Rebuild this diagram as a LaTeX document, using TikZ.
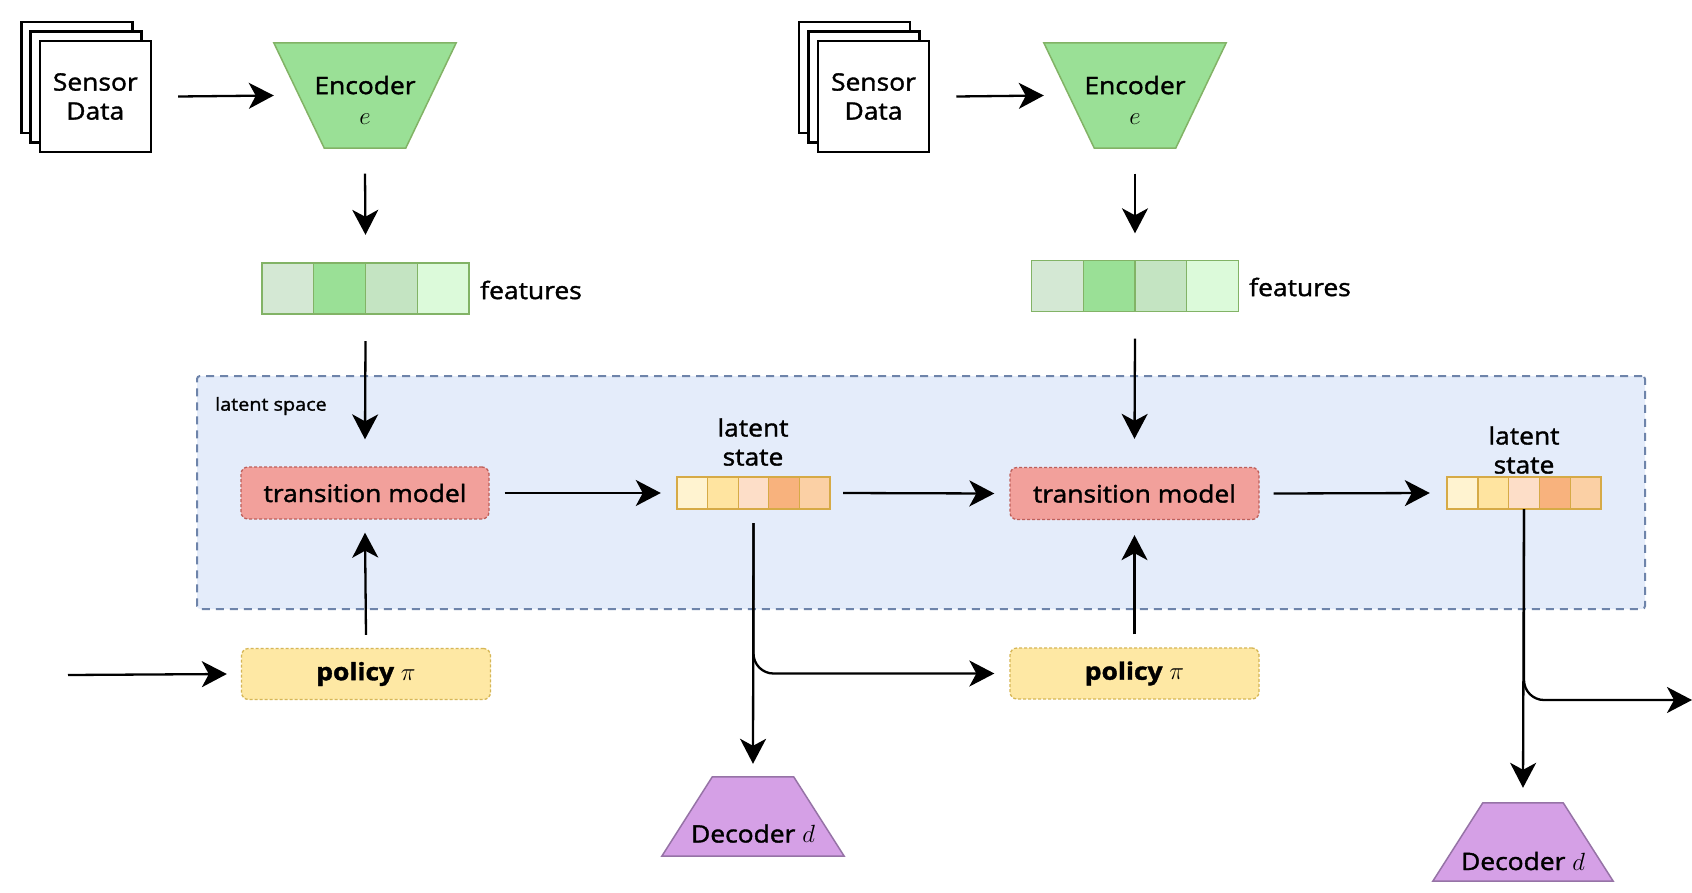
\documentclass[tikz,border=0pt]{standalone}
\usepackage{fontspec}
\setmainfont{Open Sans}[FakeStretch=1.1,FakeBold=1.5]
\usetikzlibrary{arrows.meta,backgrounds}
\definecolor{encfill}{RGB}{154,224,150}
\definecolor{encdraw}{RGB}{130,179,102}
\definecolor{fa}{RGB}{212,232,212}
\definecolor{fb}{RGB}{154,224,150}
\definecolor{fc}{RGB}{196,228,194}
\definecolor{fd}{RGB}{220,250,218}
\definecolor{tmfill}{RGB}{242,160,155}
\definecolor{tmdraw}{RGB}{190,95,90}
\definecolor{polfill}{RGB}{254,232,164}
\definecolor{poldraw}{RGB}{214,182,86}
\definecolor{la}{RGB}{255,243,208}
\definecolor{lb}{RGB}{255,228,160}
\definecolor{lc}{RGB}{253,222,200}
\definecolor{ld}{RGB}{248,178,125}
\definecolor{le}{RGB}{251,208,165}
\definecolor{ldraw}{RGB}{214,170,70}
\definecolor{spacefill}{RGB}{228,236,250}
\definecolor{spacedraw}{RGB}{110,132,170}
\definecolor{decfill}{RGB}{213,160,230}
\definecolor{decdraw}{RGB}{150,115,166}
\begin{document}
\begin{tikzpicture}[x=1pt,y=-1pt,
  font=\fontsize{24}{29}\selectfont,
  sens/.style={draw=black, line width=2.5pt, fill=white, minimum width=111pt, minimum height=111pt, inner sep=0, align=center},
  arr/.style={line width=2.3pt, -{Stealth[length=25pt,width=26pt,inset=7pt]}},
  box/.style={inner sep=0, minimum width=#1},
  txt/.style={inner sep=0, align=center},
  tmbox/.style={rectangle, rounded corners=7pt, draw=tmdraw, dash pattern=on 3pt off 2pt, line width=1.3pt, fill=tmfill, minimum width=248pt, minimum height=52pt, inner sep=0},
  polbox/.style={rectangle, rounded corners=7pt, draw=poldraw, dash pattern=on 3pt off 2pt, line width=1.3pt, fill=polfill, minimum width=249pt, minimum height=51pt, inner sep=0, font=\fontsize{24}{29}\selectfont\bfseries},
  fcell/.style={draw=encdraw, line width=1.3pt, minimum width=51.75pt, minimum height=51pt, inner sep=0},
  lcell/.style={draw=ldraw, line width=1.3pt, minimum width=30.7pt, minimum height=32pt, inner sep=0},
  encshape/.style={fill=encfill, draw=encdraw, line width=1.5pt},
  decshape/.style={fill=decfill, draw=decdraw, line width=1.5pt},
  spacebox/.style={rectangle, rounded corners=3pt, draw=spacedraw, fill=spacefill, line width=2pt, dash pattern=on 8pt off 6pt, minimum width=1448pt, minimum height=233pt, inner sep=0}
]
\useasboundingbox (0,0) rectangle (1692,892);

% latent space container
\node[spacebox] (space) at (921,492.5) {};
\node[anchor=west, inner sep=0, font=\fontsize{18}{20}\selectfont] (spacelbl) at (215,406) {latent space};

% ---------- first column ----------
\node[sens] (s1c) at (76.8,77.5) {};
\node[sens] (s1b) at (86,87) {};
\node[sens] (s1) at (95.3,96.5) {Sensor\\Data};

\node[box=182pt, minimum height=105pt] (enc1) at (365,95.5) {};
\node[txt, font=\fontsize{24}{30}\selectfont] (enc1t) at (365,100) {Encoder\\$e$};

\node[box=207pt, minimum height=51pt] (feat1) at (365.5,288.5) {};
\foreach \c [count=\i, evaluate=\i as \dx using (\i-2.5)*51.75] in {fa,fb,fc,fd}
  \node[fcell, fill=\c] at ([xshift=\dx pt]feat1.center) {};
\node[txt, anchor=west] (feat1t) at (480,290) {features};

\node[tmbox] (tm1) at (365,493) {transition model};
\node[polbox] (pol1) at (366,674) {policy $\pi$};

\node[box=153pt, minimum height=32pt] (lat1) at (753.5,493) {};
\foreach \c [count=\i, evaluate=\i as \dx using (\i-3)*30.6] in {la,lb,lc,ld,le}
  \node[lcell, fill=\c] at ([xshift=\dx pt]lat1.center) {};
\node[txt] (lat1t) at (753,442) {latent\\state};

\node[box=182pt, minimum height=79pt] (dec1) at (753,816.5) {};
\node[txt] (dec1t) at ([yshift=-17pt]dec1.center) {Decoder $d$};

% ---------- second column ----------
\node[sens] (s2c) at (854.5,77.5) {};
\node[sens] (s2b) at (864,87) {};
\node[sens] (s2) at (873.5,96.5) {Sensor\\Data};

\node[box=182pt, minimum height=105pt] (enc2) at (1135,95.5) {};
\node[txt, font=\fontsize{24}{30}\selectfont] (enc2t) at (1135,100) {Encoder\\$e$};

\node[box=207pt, minimum height=51pt] (feat2) at (1135,286) {};
\foreach \c [count=\i, evaluate=\i as \dx using (\i-2.5)*51.75] in {fa,fb,fc,fd}
  \node[fcell, fill=\c] at ([xshift=\dx pt]feat2.center) {};
\node[txt, anchor=west] (feat2t) at (1249,287) {features};

\node[tmbox, minimum width=249pt] (tm2) at (1134.5,493.5) {transition model};
\node[polbox] (pol2) at (1134.5,673.5) {policy $\pi$};

\node[box=154pt, minimum height=32pt] (lat2) at (1524,493) {};
\foreach \c [count=\i, evaluate=\i as \dx using (\i-3)*30.8] in {la,lb,lc,ld,le}
  \node[lcell, fill=\c] at ([xshift=\dx pt]lat2.center) {};
\node[txt] (lat2t) at (1524,450) {latent\\state};

\node[box=180pt, minimum height=78pt] (dec2) at (1523,842) {};
\node[txt] (dec2t) at ([yshift=-19pt]dec2.center) {Decoder $d$};

% trapezoid shapes behind their labels
\begin{scope}[on background layer]
\fill[white] (0,0) rectangle (1692,892);
\draw[encshape] (enc1.north west) -- (enc1.north east) -- ([xshift=-50.5pt]enc1.south east) -- ([xshift=50.5pt]enc1.south west) -- cycle;
\draw[encshape] (enc2.north west) -- (enc2.north east) -- ([xshift=-50.5pt]enc2.south east) -- ([xshift=50.5pt]enc2.south west) -- cycle;
\draw[decshape] (dec1.south west) -- (dec1.south east) -- ([xshift=-50.5pt]dec1.north east) -- ([xshift=50.5pt]dec1.north west) -- cycle;
\draw[decshape] (dec2.south west) -- (dec2.south east) -- ([xshift=-50pt]dec2.north east) -- ([xshift=50pt]dec2.north west) -- cycle;
\end{scope}

\coordinate (in) at (68,675);
\coordinate (out) at (1692,700);

% ---------- connectors ----------
\draw[arr] ([xshift=26pt]s1.east) -- (enc1.west);
\draw[arr] ([yshift=-25.5pt]enc1.south) -- ([yshift=28pt]feat1.north);
\draw[arr] ([yshift=-27pt]feat1.south) -- ([yshift=27pt]tm1.north);
\draw[arr] ([yshift=13pt]pol1.north) -- ([yshift=-13pt]tm1.south);
\draw[arr] (in) -- ([xshift=-14pt]pol1.west);
\draw[arr] ([xshift=15pt]tm1.east) -- ([xshift=-16pt]lat1.west);
\draw[arr] ([xshift=13pt]lat1.east) -- ([xshift=-15pt]tm2.west);
\draw[arr] ([xshift=14pt]tm2.east) -- ([xshift=-17pt]lat2.west);
\draw[arr] ([yshift=-14pt]lat1.south) -- ([yshift=13pt]dec1.north);
\draw[arr, rounded corners=20pt] ([yshift=-14pt]lat1.south) |- ([xshift=-15pt]pol2.west);

\draw[arr] ([xshift=26pt]s2.east) -- (enc2.west);
\draw[arr] ([yshift=-25.5pt]enc2.south) -- ([yshift=27pt]feat2.north);
\draw[arr] ([yshift=-27pt]feat2.south) -- ([yshift=28pt]tm2.north);
\draw[arr] ([yshift=13pt]pol2.north) -- ([yshift=-15pt]tm2.south);
\draw[arr] (lat2.south) -- ([yshift=15pt]dec2.north);
\draw[arr, rounded corners=20pt] (lat2.south) |- (out);
\end{tikzpicture}
\end{document}
